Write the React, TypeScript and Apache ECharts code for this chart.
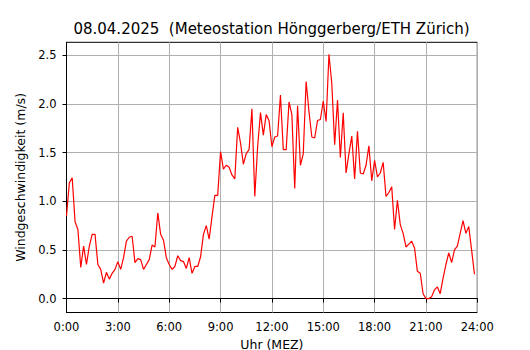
import React, { useEffect, useRef } from "react";
import * as echarts from "echarts";

const TITLE = "08.04.2025  (Meteostation Hönggerberg/ETH Zürich)";
const X_NAME = "Uhr (MEZ)";
const Y_NAME = "Windgeschwindigkeit (m/s)";

// 10-minute values from 0:00 to 23:50
const STEP_MINUTES = 10;
const WIND_SPEED = [
  0.85, 1.19, 1.24, 0.79, 0.71, 0.32, 0.54, 0.35, 0.54, 0.66, 0.66, 0.35,
  0.30, 0.16, 0.27, 0.20, 0.26, 0.30, 0.38, 0.30, 0.42, 0.59, 0.63, 0.64,
  0.37, 0.41, 0.40, 0.30, 0.35, 0.40, 0.55, 0.53, 0.88, 0.66, 0.60, 0.42,
  0.35, 0.30, 0.33, 0.44, 0.39, 0.38, 0.31, 0.42, 0.26, 0.33, 0.33, 0.43,
  0.66, 0.75, 0.61, 0.84, 1.06, 1.06, 1.51, 1.33, 1.37, 1.35, 1.27, 1.23,
  1.76, 1.60, 1.38, 1.49, 1.53, 1.95, 1.05, 1.56, 1.91, 1.68, 1.89, 1.83,
  1.56, 1.66, 1.67, 2.09, 1.53, 1.53, 2.02, 1.89, 1.13, 1.98, 1.37, 1.49,
  2.23, 1.92, 1.66, 1.65, 1.83, 1.84, 2.03, 1.82, 2.51, 2.21, 1.58, 2.04,
  1.45, 1.91, 1.29, 1.49, 1.67, 1.23, 1.72, 1.29, 1.28, 1.37, 1.57, 1.21,
  1.42, 1.25, 1.29, 1.40, 1.05, 1.09, 1.15, 0.71, 1.01, 0.76, 0.67, 0.53,
  0.56, 0.59, 0.52, 0.28, 0.26, 0.05, 0.00, 0.00, 0.02, 0.09, 0.12, 0.05,
  0.21, 0.35, 0.47, 0.37, 0.50, 0.54, 0.67, 0.80, 0.67, 0.74, 0.50, 0.25,
];

const X_TICKS_MIN = [0, 180, 360, 540, 720, 900, 1080, 1260, 1440];
const Y_TICKS = [0, 0.5, 1.0, 1.5, 2.0, 2.5];
const Y_MIN = -0.143;
const Y_MAX = 2.633;

const FONT = "DejaVu Sans";

export default function App() {
  const ref = useRef<HTMLDivElement>(null);
  useEffect(() => {
    if (!ref.current) return;
    const chart = echarts.init(ref.current, null, { renderer: "svg" });
    const data = WIND_SPEED.map((v, i) => [i * STEP_MINUTES, v]);
    chart.setOption({
      animation: false,
      backgroundColor: "#ffffff",
      graphic: [
        {
          type: "text",
          x: 271.5,
          y: 28.5,
          style: {
            text: TITLE,
            fontFamily: FONT,
            fontSize: 15,
            fill: "#000",
            textAlign: "center",
            textVerticalAlign: "middle",
          },
        },
      ],
      grid: {
        left: 66.5,
        top: 42.3,
        right: 530 - 477.3,
        bottom: 350 - 312.5,
        outerBoundsMode: "none",
        containLabel: false,
        show: true,
        borderColor: "#000",
        borderWidth: 1,
        backgroundColor: "transparent",
      },
      xAxis: {
        type: "value",
        min: 0,
        max: 1440,
        interval: 180,
        name: X_NAME,
        nameLocation: "middle",
        nameGap: 25,
        nameTextStyle: { fontFamily: FONT, fontSize: 12.5, color: "#000" },
        axisLine: { show: true, lineStyle: { color: "#000", width: 1 } },
        axisTick: { show: true, length: 4, lineStyle: { color: "#000", width: 1 } },
        axisLabel: {
          fontFamily: FONT,
          fontSize: 11.5,
          color: "#000",
          margin: 8,
          customValues: X_TICKS_MIN,
          formatter: (m: number) => `${Math.round(m / 60)}:00`,
        },
        splitLine: { show: true, lineStyle: { color: "#b0b0b0", width: 1 } },
      },
      yAxis: {
        type: "value",
        min: Y_MIN,
        max: Y_MAX,
        name: Y_NAME,
        nameLocation: "middle",
        nameRotate: 90,
        nameGap: 38,
        nameTextStyle: { fontFamily: FONT, fontSize: 12.5, color: "#000" },
        axisLine: { show: true, lineStyle: { color: "#000", width: 1 } },
        axisTick: { show: true, length: 4, customValues: Y_TICKS, lineStyle: { color: "#000", width: 1 } },
        axisLabel: {
          fontFamily: FONT,
          fontSize: 11.5,
          color: "#000",
          margin: 10,
          customValues: Y_TICKS,
          formatter: (v: number) => v.toFixed(1),
        },
        splitLine: { show: true, lineStyle: { color: "#b0b0b0", width: 1 } },
      },
      series: [
        {
          type: "line",
          data,
          showSymbol: false,
          symbol: "none",
          lineStyle: { color: "#ff0000", width: 1.2 },
          z: 3,
        },
      ],
    });
    return () => chart.dispose();
  }, []);
  return <div ref={ref} style={{ position: "fixed", left: 0, top: 0, width: 530, height: 350 }} />;
}
